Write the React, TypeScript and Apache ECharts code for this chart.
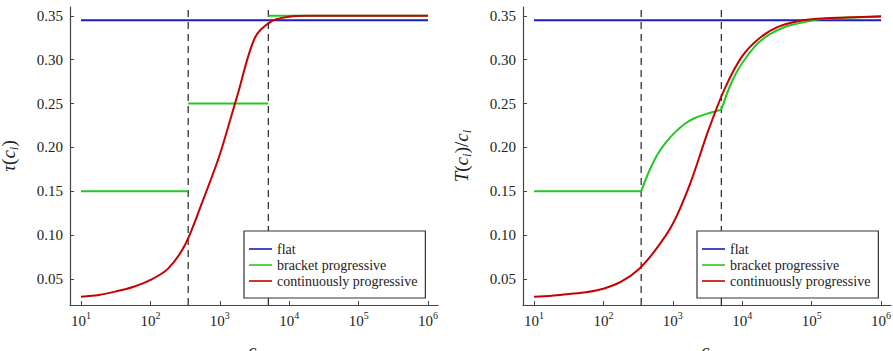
import React, { useEffect, useRef } from "react";
import * as echarts from "echarts";

// ---- data ----
const incomes = [10, 18, 32, 56, 100, 180, 320, 560, 1000, 1800, 3200, 5600, 10000, 18000, 32000, 56000, 100000, 320000, 1000000];
const tauContinuous = [0.030, 0.032, 0.036, 0.041, 0.049, 0.062, 0.090, 0.138, 0.192, 0.260, 0.325, 0.344, 0.349, 0.350, 0.350, 0.350, 0.350, 0.350, 0.350];
const avgContinuous = [0.030, 0.031, 0.033, 0.035, 0.039, 0.047, 0.061, 0.083, 0.113, 0.160, 0.218, 0.267, 0.304, 0.325, 0.337, 0.343, 0.346, 0.348, 0.3495];

const bracketThresholds = [350, 5000];
const bracketRates = [0.15, 0.25, 0.35];
const flatRate = 0.345;
const incomeMin = 10;
const incomeMax = 1000000;

const avgBracketMidC = [350, 450, 600, 800, 1100, 1500, 2000, 3000, 5000];
const avgBracketMidV = [0.15, 0.172, 0.192, 0.206, 0.218, 0.227, 0.233, 0.238, 0.243];
const avgBracketHighC = [5000, 6500, 8500, 12000, 17000, 25000, 40000, 70000, 130000, 300000, 1000000];
const avgBracketHighV = [0.243, 0.268, 0.287, 0.305, 0.319, 0.329, 0.337, 0.342, 0.346, 0.348, 0.349];

const xTickExponents = [1, 2, 3, 4, 5, 6];
const yTicks = [0.05, 0.1, 0.15, 0.2, 0.25, 0.3, 0.35];
const xRange = [6.94, 1390000];
const yRange = [0.0205, 0.36];

const seriesNames = ["flat", "bracket progressive", "continuously progressive"];
const colors = ["#1c1cb8", "#22c922", "#c80000"];

const F = "Liberation Serif";
const lg = (c: number) => Math.log10(c);

const nameRich = {
  i: { fontFamily: F, fontSize: 19, fontStyle: "italic", lineHeight: 24, color: "#222" },
  n: { fontFamily: F, fontSize: 19, lineHeight: 24, color: "#222" },
  s: { fontFamily: F, fontSize: 13, fontStyle: "italic", lineHeight: 12, verticalAlign: "bottom", color: "#222" },
};

const lineBase = { type: "line", showSymbol: false, symbol: "none" };

function buildOption(panel: number) {
  const grid =
    panel === 0
      ? { left: 70, right: 9, top: 7, bottom: 46, outerBoundsMode: "none", containLabel: false }
      : { left: 76, right: 2, top: 7, bottom: 46, outerBoundsMode: "none", containLabel: false };
  const yName = panel === 0 ? "{i|τ}{n|(}{i|c}{s|i}{n|)}" : "{i|T}{n|(}{i|c}{s|i}{n|)/}{i|c}{s|i}";

  const series: any[] = [];
  bracketThresholds.forEach((t) => {
    series.push({
      ...lineBase,
      silent: true,
      lineStyle: { color: "#333", type: [7, 5], width: 1.3 },
      data: [[lg(t), yRange[0]], [lg(t), yRange[1]]],
      z: 1,
    });
  });
  series.push({
    ...lineBase,
    name: seriesNames[0],
    lineStyle: { color: colors[0], width: 2 },
    itemStyle: { color: colors[0] },
    data: [[lg(incomeMin), flatRate], [lg(incomeMax), flatRate]],
    z: 2,
  });
  if (panel === 0) {
    const bounds = [incomeMin, ...bracketThresholds, incomeMax];
    const stepData: any[] = [];
    bracketRates.forEach((r, k) => {
      if (k > 0) stepData.push([lg(bounds[k]), "-"]);
      stepData.push([lg(bounds[k]), r]);
      stepData.push([lg(bounds[k + 1]), r]);
    });
    series.push({
      ...lineBase,
      name: seriesNames[1],
      connectNulls: false,
      lineStyle: { color: colors[1], width: 2 },
      itemStyle: { color: colors[1] },
      data: stepData,
      z: 3,
    });
  } else {
    const pieces = [
      [[lg(incomeMin), bracketRates[0]], [lg(bracketThresholds[0]), bracketRates[0]]],
      avgBracketMidC.map((c, k) => [lg(c), avgBracketMidV[k]]),
      avgBracketHighC.map((c, k) => [lg(c), avgBracketHighV[k]]),
    ];
    pieces.forEach((d, k) => {
      series.push({
        ...lineBase,
        name: seriesNames[1],
        smooth: k === 0 ? false : 0.3,
        lineStyle: { color: colors[1], width: 2 },
        itemStyle: { color: colors[1] },
        data: d,
        z: 3,
      });
    });
  }
  const redVals = panel === 0 ? tauContinuous : avgContinuous;
  series.push({
    ...lineBase,
    name: seriesNames[2],
    smooth: 0.3,
    lineStyle: { color: colors[2], width: 2 },
    itemStyle: { color: colors[2] },
    data: incomes.map((c, k) => [lg(c), redVals[k]]),
    z: 4,
  });

  return {
    animation: false,
    textStyle: { fontFamily: F },
    grid,
    xAxis: {
      type: "value",
      min: lg(xRange[0]),
      max: lg(xRange[1]),
      splitLine: { show: false },
      axisLine: { lineStyle: { color: "#444", width: 1.2 } },
      axisTick: { inside: true, length: 4, lineStyle: { color: "#444" }, customValues: xTickExponents },
      axisLabel: {
        customValues: xTickExponents,
        margin: 5,
        fontFamily: F,
        fontSize: 15,
        formatter: (v: number) => `{b|10}{p|${Math.round(v)}}`,
        rich: {
          b: { fontFamily: F, fontSize: 15, lineHeight: 22, color: "#222" },
          p: { fontFamily: F, fontSize: 10, lineHeight: 12, verticalAlign: "top", color: "#222" },
        },
      },
      name: "{i|c}{s|i}",
      nameLocation: "middle",
      nameGap: 33,
      nameTextStyle: { fontFamily: F, fontSize: 19, rich: nameRich },
    },
    yAxis: {
      type: "value",
      min: yRange[0],
      max: yRange[1],
      splitLine: { show: false },
      axisLine: { show: true, lineStyle: { color: "#444", width: 1.2 } },
      axisTick: { show: true, inside: true, length: 4, lineStyle: { color: "#444" }, customValues: yTicks },
      axisLabel: {
        customValues: yTicks,
        margin: 7,
        fontFamily: F,
        fontSize: 15,
        color: "#222",
        formatter: (v: number) => v.toFixed(2),
      },
      name: yName,
      nameLocation: "middle",
      nameGap: 50,
      nameRotate: 90,
      nameTextStyle: { fontFamily: F, fontSize: 19, rich: nameRich },
    },
    legend: {
      data: seriesNames,
      orient: "vertical",
      left: panel === 0 ? 244 : 250,
      top: 231,
      icon: "rect",
      itemWidth: 23,
      itemHeight: 1.6,
      itemGap: 2,
      padding: [11, 8, 10, 5],
      borderColor: "#333",
      borderWidth: 1.2,
      backgroundColor: "#fff",
      selectedMode: false,
      textStyle: { fontFamily: F, fontSize: 14, color: "#222" },
      z: 10,
    },
    series,
  };
}

function Panel({ panel, left, width }: { panel: number; left: number; width: number }) {
  const ref = useRef<HTMLDivElement>(null);
  useEffect(() => {
    if (!ref.current) return;
    const chart = echarts.init(ref.current, null, { renderer: "svg" });
    chart.setOption(buildOption(panel));
    return () => chart.dispose();
  }, [panel]);
  return <div ref={ref} style={{ position: "absolute", left, top: 0, width, height: 351 }} />;
}

export default function App() {
  return (
    <div style={{ position: "absolute", left: 0, top: 0, width: 893, height: 351, background: "#fff" }}>
      <Panel panel={0} left={0} width={447} />
      <Panel panel={1} left={447} width={446} />
    </div>
  );
}
